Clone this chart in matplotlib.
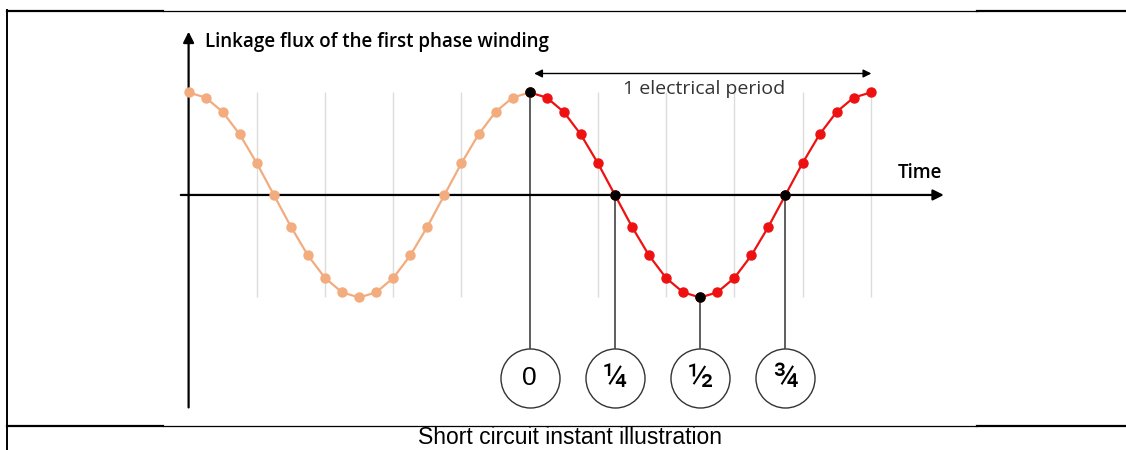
import matplotlib.pyplot as plt

flux = [1.0, 0.95, 0.81, 0.59, 0.31, 0.0, -0.31, -0.59, -0.81, -0.95, -1.0,
        -0.95, -0.81, -0.59, -0.31, 0.0, 0.31, 0.59, 0.81, 0.95,
        1.0, 0.95, 0.81, 0.59, 0.31, 0.0, -0.31, -0.59, -0.81, -0.95, -1.0,
        -0.95, -0.81, -0.59, -0.31, 0.0, 0.31, 0.59, 0.81, 0.95, 1.0]
samples = list(range(len(flux)))
start = 20                       # first sample of the highlighted period
grid_at = [4, 8, 12, 16, 24, 28, 32, 36, 40]
instants = [20, 25, 30, 35]
instant_labels = ['0', '\u00bc', '\u00bd', '\u00be']

ORANGE = '#f2ac7e'
RED = '#ee1111'
DARK = '#333333'

fig = plt.figure(figsize=(11.26, 4.5), dpi=100)

# frame / caption layer in pixel units
fr = fig.add_axes([0, 0, 1, 1])
fr.set_xlim(0, 1126)
fr.set_ylim(450, 0)
fr.axis('off')
fr.plot([7, 7], [10, 450], color='black', lw=1.4)
for yy in (10.5, 426):
    fr.plot([7, 163], [yy, yy], color='black', lw=1.6)
    fr.plot([163, 977], [yy, yy], color='black', lw=0.9)
    fr.plot([977, 1126], [yy, yy], color='black', lw=1.6)
fr.text(570, 444, 'Short circuit instant illustration', ha='center', va='baseline',
        fontsize=16.5, family='Liberation Sans', color='black')

# chart layer in data units
ax = fig.add_axes([0, 0, 1, 1])
ax.set_xlim(-11.06, 54.97)
ax.set_ylim(-2.488, 1.902)
ax.axis('off')
ax.patch.set_alpha(0)

ax.vlines(grid_at, -1, 1, color='#dcdcdc', lw=1, zorder=1)

# axes with arrow heads
ax.annotate('', xy=(0, 1.62), xytext=(0, -2.10),
            arrowprops=dict(arrowstyle='-|>', color='black', lw=1.6, mutation_scale=16))
ax.annotate('', xy=(44.45, 0), xytext=(-0.62, 0),
            arrowprops=dict(arrowstyle='-|>', color='black', lw=1.6, mutation_scale=16))
ax.text(0.97, 1.49, 'Linkage flux of the first phase winding', ha='left', va='center',
        fontsize=13.5, family='Open Sans', fontweight='semibold')
ax.text(41.6, 0.215, 'Time', ha='left', va='center',
        fontsize=13.5, family='Open Sans', fontweight='semibold')

# waveform
ax.plot(samples[:start + 1], flux[:start + 1], color=ORANGE, lw=1.6,
        marker='o', ms=6.5, zorder=3)
ax.plot(samples[start:], flux[start:], color=RED, lw=1.6,
        marker='o', ms=6.5, zorder=4)

# one period arrow
ax.annotate('', xy=(40.2, 1.185), xytext=(20.1, 1.185),
            arrowprops=dict(arrowstyle='<|-|>', color='black', lw=1.0, mutation_scale=12))
ax.text(30.25, 1.03, '1 electrical period', ha='center', va='center',
        fontsize=14, family='Open Sans', color=DARK)

# instants
circle_y = -1.785
for i, lab in zip(instants, instant_labels):
    ax.plot([i, i], [flux[i], circle_y + 0.288], color=DARK, lw=1.1, zorder=2)
    ax.plot(i, flux[i], 'o', color='black', ms=6.5, zorder=5)
    ax.scatter(i, circle_y, s=1806, facecolor='white', edgecolor=DARK, lw=1.0, zorder=3)
    if lab == '0':
        ax.text(i, circle_y, lab, ha='center', va='center', fontsize=19,
                family='Liberation Sans', zorder=6)
    else:
        ax.text(i, circle_y, lab, ha='center', va='center', fontsize=24,
                family='Roboto', zorder=6)

fig.savefig('out.png', dpi=100)
